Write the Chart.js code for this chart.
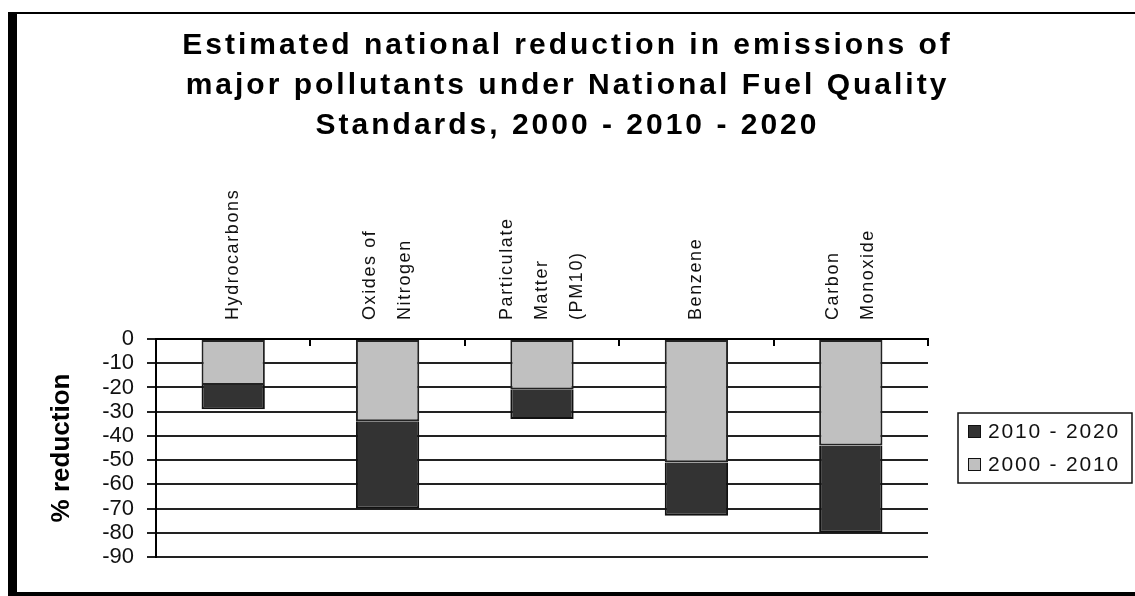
<!DOCTYPE html>
<html>
<head>
<meta charset="utf-8">
<script src="https://cdn.jsdelivr.net/npm/chart.js@4/dist/chart.umd.min.js"></script>
<style>
  html, body { margin: 0; padding: 0; background: #fff; }
  body { width: 1135px; height: 596px; position: relative; overflow: hidden; }
  #frame {
    position: absolute; left: 8px; top: 12px; width: 1140px; height: 578px;
    border-left: 9px solid #000; border-top: 2px solid #000; border-bottom: 4px solid #000;
  }
  #chart { position: absolute; left: 0; top: 0; }
</style>
</head>
<body>
<div id="frame"></div>
<canvas id="chart" width="1135" height="596"></canvas>
<script>
// Pollutant categories (multi-line labels drawn vertically above the plot)
const categories = [
  ['Hydrocarbons'],
  ['Oxides of', 'Nitrogen'],
  ['Particulate', 'Matter', '(PM10)'],
  ['Benzene'],
  ['Carbon', 'Monoxide']
];

// Percentage reduction for each period (stacked downward from zero)
const reduction2000to2010 = [-19, -34, -21, -51, -44];
const reduction2010to2020 = [-10, -36, -12, -22, -36];

const seriesNames = ['2000 - 2010', '2010 - 2020'];

// Value axis
const yMin = -90;
const yMax = 0;
const yStep = 10;

const titleLines = [
  'Estimated national reduction in emissions of',
  'major pollutants under National Fuel Quality',
  'Standards, 2000 - 2010 - 2020'
];

const FONT = "'Liberation Sans', Arial, sans-serif";

// Wider letter spacing for the chart title
const spacedTitle = {
  id: 'spacedTitle',
  afterInit(chart, args, opts) {
    const block = chart.titleBlock;
    if (!block) return;
    const draw = block.draw.bind(block);
    block.draw = (area) => {
      const ctx = chart.ctx;
      ctx.save();
      ctx.letterSpacing = opts.letterSpacing;
      draw(area);
      ctx.restore();
    };
  }
};

// Vertical category labels above the plot, and short inward ticks on the top axis
const categoryLabels = {
  id: 'categoryLabels',
  afterDraw(chart, args, opts) {
    const { ctx, chartArea } = chart;
    const x = chart.scales.x;
    ctx.save();
    ctx.font = opts.font;
    ctx.fillStyle = opts.color;
    ctx.letterSpacing = opts.letterSpacing;
    ctx.textAlign = 'left';
    ctx.textBaseline = 'middle';
    chart.data.labels.forEach((label, i) => {
      const lines = Array.isArray(label) ? label : [label];
      const cx = x.getPixelForValue(i);
      lines.forEach((line, j) => {
        const lx = cx + (j - (lines.length - 1) / 2) * opts.lineGap;
        ctx.save();
        ctx.translate(lx, chartArea.top - opts.gap);
        ctx.rotate(-Math.PI / 2);
        ctx.fillText(line, 0, 0);
        ctx.restore();
      });
    });
    ctx.letterSpacing = '0px';
    ctx.strokeStyle = '#000';
    ctx.lineWidth = 2;
    for (let k = 0; k < chart.data.labels.length; k++) {
      const px = Math.round(x.getPixelForValue(k + 0.5));
      ctx.beginPath();
      ctx.moveTo(px, chartArea.top);
      ctx.lineTo(px, chartArea.top + opts.tickLength);
      ctx.stroke();
    }
    ctx.restore();
  }
};

// Boxed legend to the right of the plot, later period listed first
const boxedLegend = {
  id: 'boxedLegend',
  afterDraw(chart, args, opts) {
    const { ctx, chartArea } = chart;
    const items = chart.data.datasets.map(d => ({ text: d.label, fill: d.backgroundColor })).reverse();
    const left = chartArea.right + opts.offsetX;
    const cy = (chartArea.top + chartArea.bottom) / 2;
    const h = items.length * opts.rowHeight + opts.padY * 2;
    const top = cy - h / 2;
    ctx.save();
    ctx.fillStyle = '#fff';
    ctx.fillRect(left, top, opts.width, h);
    ctx.strokeStyle = '#111';
    ctx.lineWidth = 1.5;
    ctx.strokeRect(left, top, opts.width, h);
    ctx.font = opts.font;
    ctx.letterSpacing = opts.letterSpacing;
    ctx.textAlign = 'left';
    ctx.textBaseline = 'middle';
    items.forEach((it, i) => {
      const rowY = top + opts.padY + opts.rowHeight * (i + 0.5);
      const bx = left + opts.boxX;
      ctx.fillStyle = it.fill;
      ctx.fillRect(bx, rowY - opts.box / 2, opts.box, opts.box);
      ctx.strokeStyle = '#111';
      ctx.lineWidth = 1;
      ctx.strokeRect(bx + 0.5, rowY - opts.box / 2 + 0.5, opts.box - 1, opts.box - 1);
      ctx.fillStyle = '#111';
      ctx.fillText(it.text, bx + opts.box + opts.textGap, rowY + 1);
    });
    ctx.restore();
  }
};

new Chart(document.getElementById('chart'), {
  type: 'bar',
  data: {
    labels: categories,
    datasets: [
      {
        label: seriesNames[0],
        data: reduction2000to2010,
        backgroundColor: '#c0c0c0',
        borderColor: '#222',
        borderWidth: 2,
        borderSkipped: false
      },
      {
        label: seriesNames[1],
        data: reduction2010to2020,
        backgroundColor: '#333333',
        borderColor: '#111',
        borderWidth: 2,
        borderSkipped: 'start'
      }
    ]
  },
  options: {
    responsive: false,
    animation: false,
    events: [],
    datasets: { bar: { categoryPercentage: 1, barPercentage: 0.41 } },
    layout: { padding: { left: 0, right: 0, top: 0, bottom: 39 } },
    scales: {
      x: {
        position: 'top',
        stacked: true,
        grid: { display: true, drawOnChartArea: false, drawTicks: false },
        border: { display: true, color: '#000', width: 2 },
        ticks: { display: false },
        afterFit(scale) { scale.height = 193; }
      },
      y: {
        stacked: true,
        min: yMin,
        max: yMax,
        ticks: {
          stepSize: yStep,
          autoSkip: false,
          color: '#111',
          padding: 13,
          font: { family: FONT, size: 22 }
        },
        grid: { color: '#222', lineWidth: 2, tickLength: 9, drawTicks: true },
        border: { display: true, color: '#000', width: 2 },
        title: {
          display: true,
          text: '% reduction',
          color: '#000',
          font: { family: FONT, size: 26, weight: 'bold', lineHeight: 1.2 },
          padding: { top: 46, bottom: 0 }
        },
        afterFit(scale) { scale.width = 156; }
      },
      legendSpace: {
        position: 'right',
        type: 'linear',
        grid: { display: false },
        border: { display: false },
        ticks: { display: false },
        afterFit(scale) { scale.width = 207; }
      }
    },
    plugins: {
      legend: { display: false },
      tooltip: { enabled: false },
      title: {
        display: true,
        text: titleLines,
        color: '#000',
        font: { family: FONT, size: 30, weight: 'bold', lineHeight: '40px' },
        padding: { top: 26, bottom: 0 }
      },
      spacedTitle: { letterSpacing: '3px' },
      categoryLabels: {
        font: "18px 'Liberation Sans', Arial, sans-serif",
        color: '#111',
        letterSpacing: '1.6px',
        lineGap: 35,
        gap: 19,
        tickLength: 7
      },
      boxedLegend: {
        offsetX: 30,
        width: 174,
        rowHeight: 33,
        padY: 2,
        boxX: 10,
        box: 13,
        textGap: 7,
        font: "21px 'Liberation Sans', Arial, sans-serif",
        letterSpacing: '1.8px'
      }
    }
  },
  plugins: [spacedTitle, categoryLabels, boxedLegend]
});
</script>
</body>
</html>
